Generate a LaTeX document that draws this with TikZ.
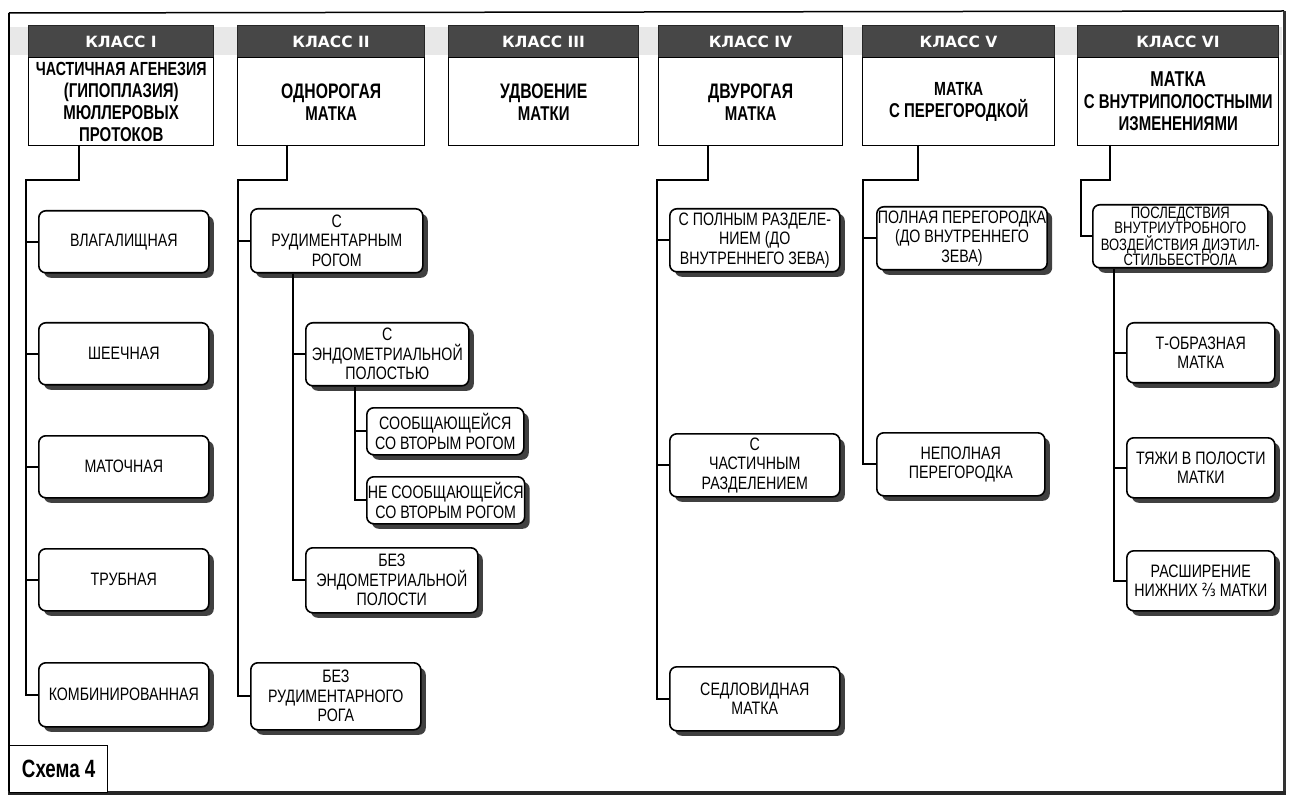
\documentclass[tikz,border=0pt]{standalone}
\usepackage{fontspec}
\setmainfont{Liberation Sans}
\newfontfamily\cond{Liberation Sans}[FakeStretch=0.79]
\newfontfamily\hdrf{Liberation Sans}[FakeStretch=0.75]
\newfontfamily\barf{DejaVu Sans}
\newfontfamily\djv{DejaVu Sans}[FakeStretch=0.8]
\usetikzlibrary{shadows}
\tikzset{
  conn/.style={line width=1.8pt, line join=miter},
  kid/.style={draw, line width=1.6pt, rounded corners=7pt, fill=white, anchor=north west,
    align=center, inner sep=1pt, font=\cond\fontsize{18}{19.5}\selectfont,
    drop shadow={shadow xshift=5pt, shadow yshift=-5pt, opacity=1, fill=black!75}},
  barbox/.style={fill=black!72, draw=black!85, line width=1pt, anchor=north west, minimum height=32pt,
    text=white, inner sep=0pt, font=\barf\bfseries\fontsize{15.5}{17}\selectfont},
  hbox/.style={draw, line width=1.4pt, fill=white, anchor=north west, minimum height=88pt,
    align=center, inner sep=1pt, font=\hdrf\bfseries\fontsize{20}{22}\selectfont},
}
\begin{document}
\begin{tikzpicture}[x=1pt, y=-1pt]
\useasboundingbox (0,0) rectangle (1291,802);
\fill[white] (0,0) rectangle (1291,802);
% frame
\fill[black!9] (10,27) rectangle (1282,55);
\draw[line width=1.2pt] (9,13) -- (9,792);
\draw[line width=1.5pt] (9,13) -- (1284,11);
\draw[line width=3pt, black!80] (1284,11) -- (1284,793);
\draw[line width=4.5pt, black!85] (8,793) -- (1286,793);

% headers
\foreach \n/\x/\w/\lab in {1/28/185/I, 2/237/187/II, 3/448/190/III, 4/658/184/IV, 5/862/192/V, 6/1077/201/VI}{
  \node[barbox, minimum width=\w pt] (b\n) at (\x,25) {КЛАСС \lab};
}
\node[hbox, minimum width=185pt] (h1) at (28,57) {\fontsize{19}{20}\selectfont ЧАСТИЧНАЯ АГЕНЕЗИЯ\\(ГИПОПЛАЗИЯ)\\МЮЛЛЕРОВЫХ\\ПРОТОКОВ};
\node[hbox, minimum width=187pt] (h2) at (237,57) {\fontsize{21}{31}\selectfont ОДНОРОГАЯ\\МАТКА};
\node[hbox, minimum width=190pt] (h3) at (448,57) {\fontsize{21}{31}\selectfont УДВОЕНИЕ\\МАТКИ};
\node[hbox, minimum width=184pt] (h4) at (658,57) {\fontsize{21}{31}\selectfont ДВУРОГАЯ\\МАТКА};
\node[hbox, minimum width=192pt] (h5) at (862,57) {\fontsize{19}{24}\selectfont МАТКА\\С ПЕРЕГОРОДКОЙ};
\node[hbox, minimum width=201pt] (h6) at (1077,57) {\fontsize{21.5}{20.5}\selectfont МАТКА\\С ВНУТРИПОЛОСТНЫМИ\\ИЗМЕНЕНИЯМИ};

% class I children
\node[kid, minimum width=170pt, minimum height=62pt] (k11) at (38,210) {ВЛАГАЛИЩНАЯ};
\node[kid, minimum width=170pt, minimum height=62pt] (k12) at (38,322) {ШЕЕЧНАЯ};
\node[kid, minimum width=170pt, minimum height=62pt] (k13) at (38,435) {МАТОЧНАЯ};
\node[kid, minimum width=170pt, minimum height=62pt] (k14) at (38,548) {ТРУБНАЯ};
\node[kid, minimum width=170pt, minimum height=64pt] (k15) at (38,662) {КОМБИНИРОВАННАЯ};

% class II children
\node[kid, minimum width=172pt, minimum height=64pt] (k21) at (250,208) {С\\РУДИМЕНТАРНЫМ\\РОГОМ};
\node[kid, minimum width=163pt, minimum height=63pt] (k22) at (305,322) {С\\ЭНДОМЕТРИАЛЬНОЙ\\ПОЛОСТЬЮ};
\node[kid, minimum width=157pt, minimum height=47pt] (k23) at (366,407) {СООБЩАЮЩЕЙСЯ\\СО ВТОРЫМ РОГОМ};
\node[kid, minimum width=157pt, minimum height=47pt] (k24) at (366,476) {НЕ СООБЩАЮЩЕЙСЯ\\СО ВТОРЫМ РОГОМ};
\node[kid, minimum width=172pt, minimum height=65pt] (k25) at (305,547) {БЕЗ\\ЭНДОМЕТРИАЛЬНОЙ\\ПОЛОСТИ};
\node[kid, minimum width=170pt, minimum height=67pt] (k26) at (250,662) {БЕЗ\\РУДИМЕНТАРНОГО\\РОГА};

% class IV children
\node[kid, minimum width=170pt, minimum height=63pt] (k41) at (669,208) {С ПОЛНЫМ РАЗДЕЛЕ-\\НИЕМ (ДО\\ВНУТРЕННЕГО ЗЕВА)};
\node[kid, minimum width=170pt, minimum height=63pt] (k42) at (669,433) {С\\ЧАСТИЧНЫМ\\РАЗДЕЛЕНИЕМ};
\node[kid, minimum width=170pt, minimum height=64pt] (k43) at (669,666) {СЕДЛОВИДНАЯ\\МАТКА};

% class V children
\node[kid, minimum width=168pt, minimum height=63pt] (k51) at (876,206) {ПОЛНАЯ ПЕРЕГОРОДКА\\(ДО ВНУТРЕННЕГО\\ЗЕВА)};
\node[kid, minimum width=168pt, minimum height=63pt] (k52) at (876,432) {НЕПОЛНАЯ\\ПЕРЕГОРОДКА};

% class VI children
\node[kid, minimum width=175pt, minimum height=63pt, font=\cond\fontsize{16.5}{15}\selectfont] (k61) at (1092,204) {ПОСЛЕДСТВИЯ\\ВНУТРИУТРОБНОГО\\ВОЗДЕЙСТВИЯ ДИЭТИЛ-\\СТИЛЬБЕСТРОЛА};
\node[kid, minimum width=148pt, minimum height=60pt] (k62) at (1126,322) {Т-ОБРАЗНАЯ\\МАТКА};
\node[kid, minimum width=148pt, minimum height=60pt] (k63) at (1126,437) {ТЯЖИ В ПОЛОСТИ\\МАТКИ};
\node[kid, minimum width=148pt, minimum height=60pt] (k64) at (1126,550) {РАСШИРЕНИЕ\\НИЖНИХ {\djv ⅔} МАТКИ};

% Scheme label
\node[draw, line width=1.3pt, fill=white, anchor=north west, minimum width=98pt, minimum height=47pt,
  font=\hdrf\bfseries\fontsize{25}{26}\selectfont] (sch) at (9,745) {Схема 4};

% connector points
\coordinate (s1) at (79,145);  \coordinate (t1) at (26,180);
\coordinate (s2) at (287,145); \coordinate (t2) at (238,180);
\coordinate (s4) at (708,145); \coordinate (t4) at (657,180);
\coordinate (s5) at (918,145); \coordinate (t5) at (863,180);
\coordinate (s6) at (1110,145); \coordinate (t6) at (1081,180);
\coordinate (u2) at (293,0); \coordinate (v2) at (355,0); \coordinate (u6) at (1114,0);

% class I
\draw[conn] (s1) -- (s1 |- t1) -- (t1) |- (k15.west);
\foreach \k in {k11,k12,k13,k14} \draw[conn] (t1 |- \k.west) -- (\k.west);
% class II
\draw[conn] (s2) -- (s2 |- t2) -- (t2) |- (k26.west);
\draw[conn] (t2 |- k21.west) -- (k21.west);
\draw[conn] (k21.south -| u2) |- (k25.west);
\draw[conn] (u2 |- k22.west) -- (k22.west);
\draw[conn] (k22.south -| v2) |- (k24.west);
\draw[conn] (v2 |- k23.west) -- (k23.west);
% class IV
\draw[conn] (s4) -- (s4 |- t4) -- (t4) |- (k43.west);
\foreach \k in {k41,k42} \draw[conn] (t4 |- \k.west) -- (\k.west);
% class V
\draw[conn] (s5) -- (s5 |- t5) -- (t5) |- (k52.west);
\draw[conn] (t5 |- k51.west) -- (k51.west);
% class VI
\draw[conn] (s6) -- (s6 |- t6) -- (t6) |- (k61.west);
\draw[conn] (k61.south -| u6) |- (k64.west);
\foreach \k in {k62,k63} \draw[conn] (u6 |- \k.west) -- (\k.west);
\end{tikzpicture}
\end{document}
